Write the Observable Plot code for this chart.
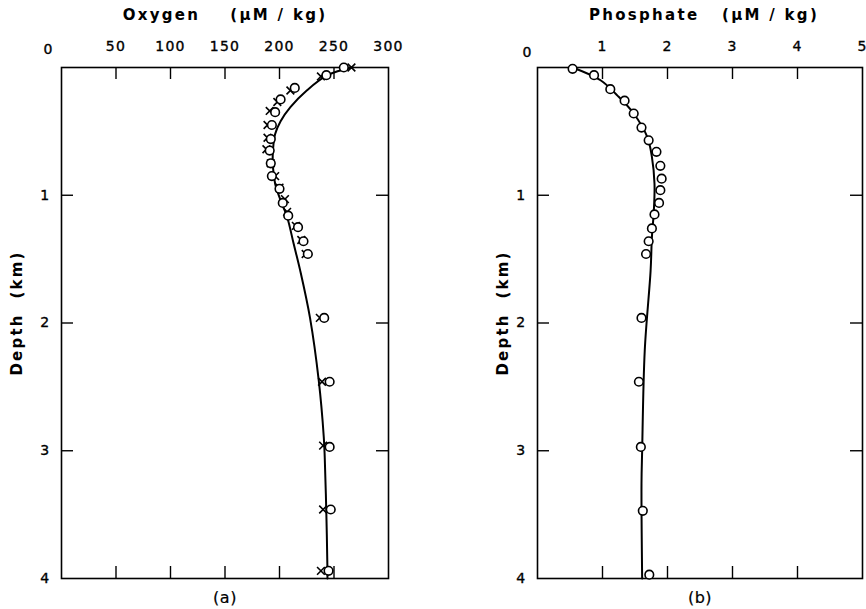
<!DOCTYPE html>
<html>
<head>
<meta charset="utf-8">
<script src="https://cdn.jsdelivr.net/npm/d3@7"></script>
<script src="https://cdn.jsdelivr.net/npm/@observablehq/plot@0.6"></script>
<style>
  html, body { margin: 0; padding: 0; background: #fff; }
  #wrap { display: flex; width: 866px; height: 609px; }
</style>
</head>
<body>
<div id="wrap"></div>
<script>
// ---- Panel (a): Oxygen (µM/kg) vs depth (km)
const oxCircleDepth = [0.0, 0.06, 0.16, 0.25, 0.35, 0.45, 0.56, 0.65, 0.75, 0.85, 0.95, 1.06, 1.16, 1.25, 1.36, 1.46, 1.96, 2.46, 2.97, 3.46, 3.94];
const oxCircleValue = [259, 243, 214, 201, 196, 193, 192, 191, 192, 193, 200, 203, 208, 217, 222, 226, 241, 246, 246, 247, 245];
const oxCrossDepth  = [0.0, 0.07, 0.18, 0.27, 0.34, 0.45, 0.55, 0.64, 0.75, 0.85, 0.94, 1.03, 1.13, 1.24, 1.35, 1.46, 1.96, 2.46, 2.96, 3.46, 3.94];
const oxCrossValue  = [266, 238, 210, 198, 191, 189, 189, 188, 192, 196, 200, 205, 207, 215, 220, 224, 237, 239, 240, 240, 238];
const oxLineDepth   = [0.0, 0.06, 0.18, 0.31, 0.42, 0.52, 0.65, 0.78, 0.91, 1.04, 1.17, 1.38, 1.59, 1.96, 2.45, 2.89, 3.05, 3.5, 3.94, 4.0];
const oxLineValue   = [267, 244, 225, 210, 201, 196, 194, 194, 196, 201, 207, 213, 219, 228, 236, 240.6, 241.5, 243, 244, 244];

// ---- Panel (b): Phosphate (µM/kg) vs depth (km)
const phCircleDepth = [0.01, 0.06, 0.17, 0.26, 0.36, 0.47, 0.57, 0.66, 0.77, 0.87, 0.96, 1.06, 1.15, 1.26, 1.36, 1.46, 1.96, 2.46, 2.97, 3.47, 3.97];
const phCircleValue = [0.54, 0.87, 1.12, 1.34, 1.48, 1.60, 1.71, 1.83, 1.89, 1.91, 1.89, 1.87, 1.80, 1.76, 1.71, 1.67, 1.60, 1.56, 1.59, 1.62, 1.72];
const phLineDepth   = [0.0, 0.1, 0.22, 0.36, 0.545, 0.7, 0.91, 1.12, 1.33, 1.59, 2.215, 3.0, 3.26, 4.0];
const phLineValue   = [0.54, 0.97, 1.23, 1.48, 1.69, 1.76, 1.80, 1.79, 1.76, 1.74, 1.65, 1.61, 1.60, 1.61];

// ---- Axes
const oxTicks = [0, 50, 100, 150, 200, 250, 300];
const phTicks = [0, 1, 2, 3, 4, 5];
const depthTicks = [0, 1, 2, 3, 4];

const zip = (ds, vs) => ds.map((d, i) => ({depth: d, value: vs[i]}));

const W = 433, H = 609, MT = 67, MB = 31;
const PH = H - MT - MB;
const TL = 12;
const FONT = "DejaVu Sans, sans-serif";

function panel({ml, mr, domain, ticks, title, titleDx, tag, circles, crosses, line, zeroDx, zeroDy, ylabDx}) {
  const PW = W - ml - mr;
  const inner = ticks.slice(1, -1);
  const innerY = depthTicks.slice(1, -1);
  const marks = [
    Plot.line(line, {x: "value", y: "depth", curve: "catmull-rom", stroke: "#000", strokeWidth: 2}),
    Plot.frame({stroke: "#000", strokeWidth: 1.6}),
    Plot.tickX(inner, {x: d => d, insetBottom: PH - TL, stroke: "#000", strokeWidth: 1.4}),
    Plot.tickX(inner, {x: d => d, insetTop: PH - TL, stroke: "#000", strokeWidth: 1.4}),
    Plot.tickY(innerY, {y: d => d, insetRight: PW - TL, stroke: "#000", strokeWidth: 1.4}),
    Plot.tickY(innerY, {y: d => d, insetLeft: PW - TL, stroke: "#000", strokeWidth: 1.4}),
    Plot.axisX(ticks.slice(1), {anchor: "top", tickSize: 0, tickPadding: 17, label: null, tickFormat: d => String(d)}),
    Plot.axisY(depthTicks.slice(1), {anchor: "left", tickSize: 0, tickPadding: 11, label: null, tickFormat: d => String(d)}),
    Plot.text(["0"], {frameAnchor: "top-left", dx: zeroDx, dy: zeroDy, textAnchor: "middle", lineAnchor: "middle", fill: "#000"}),
    Plot.text([title], {frameAnchor: "top", dx: titleDx, dy: -52, textAnchor: "middle", lineAnchor: "middle", fill: "#000"}),
    Plot.text(["Depth\u00a0\u00a0(km)"], {frameAnchor: "left", dx: ylabDx, dy: -10, rotate: -90, textAnchor: "middle", lineAnchor: "middle", fill: "#000"}),
    Plot.text([tag], {frameAnchor: "bottom", dy: 19, textAnchor: "middle", lineAnchor: "middle", fill: "#000"})
  ];
  if (crosses) marks.push(Plot.dot(crosses, {x: "value", y: "depth", symbol: "times", r: 3.6, stroke: "#000", strokeWidth: 1.6}));
  marks.push(Plot.dot(circles, {x: "value", y: "depth", r: 4.3, fill: "#fff", stroke: "#000", strokeWidth: 1.6}));
  const svg = Plot.plot({
    width: W, height: H,
    marginLeft: ml, marginRight: mr, marginTop: MT, marginBottom: MB,
    x: {domain, axis: null},
    y: {domain: [0, 4], reverse: true, axis: null},
    style: {background: "#fff", color: "#000", fontFamily: FONT, fontSize: "13px", overflow: "visible"},
    marks
  });
  // text styling (sizes, weights, letter spacing)
  svg.querySelectorAll("text").forEach(t => {
    const s = t.textContent;
    let size = 14, weight = "normal", ls = "1.3px", sw = 0.35;
    if (s === title) { size = 15; weight = "bold"; ls = "2.3px"; sw = 0; }
    else if (s.startsWith("Depth")) { size = 15; weight = "bold"; ls = "2.2px"; sw = 0; }
    else if (s === tag) { size = 16; ls = "0.5px"; sw = 0.2; }
    t.style.fontSize = size + "px";
    t.style.fontWeight = weight;
    t.style.letterSpacing = ls;
    t.style.fontFamily = FONT;
    t.style.fill = "#000";
    if (sw) { t.style.stroke = "#000"; t.style.strokeWidth = sw + "px"; }
  });
  return svg;
}

const wrap = document.getElementById("wrap");
wrap.appendChild(panel({
  ml: 61, mr: 45, domain: [0, 300], ticks: oxTicks,
  title: "Oxygen\u00a0\u00a0\u00a0\u00a0(\u03bcM / kg)", titleDx: 0, tag: "(a)",
  circles: zip(oxCircleDepth, oxCircleValue),
  crosses: zip(oxCrossDepth, oxCrossValue),
  line: zip(oxLineDepth, oxLineValue),
  zeroDx: -13, zeroDy: -18, ylabDx: -44
}));
wrap.appendChild(panel({
  ml: 104, mr: 4, domain: [0, 5], ticks: phTicks,
  title: "Phosphate\u00a0\u00a0\u00a0(\u03bcM / kg)", titleDx: 4, tag: "(b)",
  circles: zip(phCircleDepth, phCircleValue),
  crosses: null,
  line: zip(phLineDepth, phLineValue),
  zeroDx: -10, zeroDy: -15, ylabDx: -34
}));
</script>
</body>
</html>
